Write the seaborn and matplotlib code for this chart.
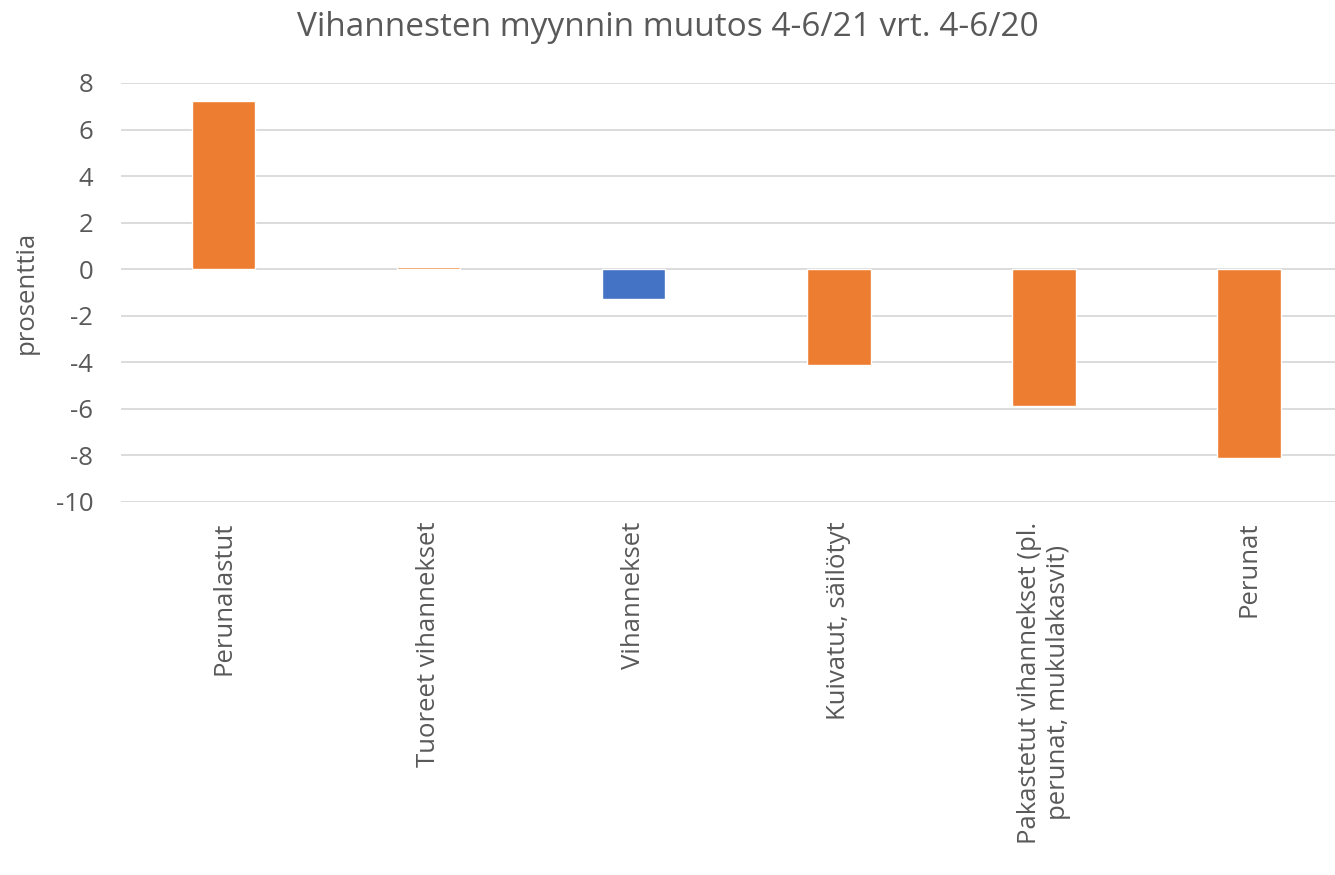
import pandas as pd
import seaborn as sns
import matplotlib.pyplot as plt

# Data
categories = ["Perunalastut", "Tuoreet vihannekset", "Vihannekset", "Kuivatut, säilötyt",
              "Pakastetut vihannekset (pl.\nperunat, mukulakasvit)", "Perunat"]
change = [7.24, 0.08, -1.28, -4.13, -5.88, -8.1]
bar_colors = ["#ED7D31", "#ED7D31", "#4472C4", "#ED7D31", "#ED7D31", "#ED7D31"]

df = pd.DataFrame({"kategoria": categories, "muutos": change})

sns.set_style("white")
plt.rcParams['font.family'] = ['Open Sans', 'DejaVu Sans']
plt.rcParams['axes.unicode_minus'] = False
text_col = "#595959"

fig = plt.figure(figsize=(13.35, 8.75), dpi=100)
ax = fig.add_axes([121 / 1335, 1 - 502 / 875, 1 - 121 / 1335, (502 - 83) / 875])

sns.barplot(data=df, x="kategoria", y="muutos", hue="kategoria", palette=bar_colors,
            width=0.31, saturation=1, legend=False, ax=ax, zorder=3)

ax.set_ylim(-10, 8)
ax.set_yticks(range(-10, 9, 2))
ax.set_xlim(-0.5, 5.42)
ax.yaxis.grid(True, color="#D9D9D9", linewidth=1.3, zorder=0)
ax.set_axisbelow(True)
for s in ax.spines.values():
    s.set_visible(False)

ax.tick_params(axis="both", length=0, labelsize=18.5, colors=text_col)
ax.tick_params(axis="x", pad=14)
ax.tick_params(axis="y", pad=20)
ax.set_xticks(range(len(categories)))
ax.set_xticklabels(categories, rotation=90, ha="center", va="top", multialignment="center")
ax.set_xlabel("")
ax.set_ylabel("prosenttia", fontsize=18.5, color=text_col, labelpad=12)

fig.text(0.5, 1 - 27 / 875, "Vihannesten myynnin muutos 4-6/21 vrt. 4-6/20",
         ha="center", va="center", fontsize=24, color=text_col)

fig.savefig("out.png", dpi=100)
